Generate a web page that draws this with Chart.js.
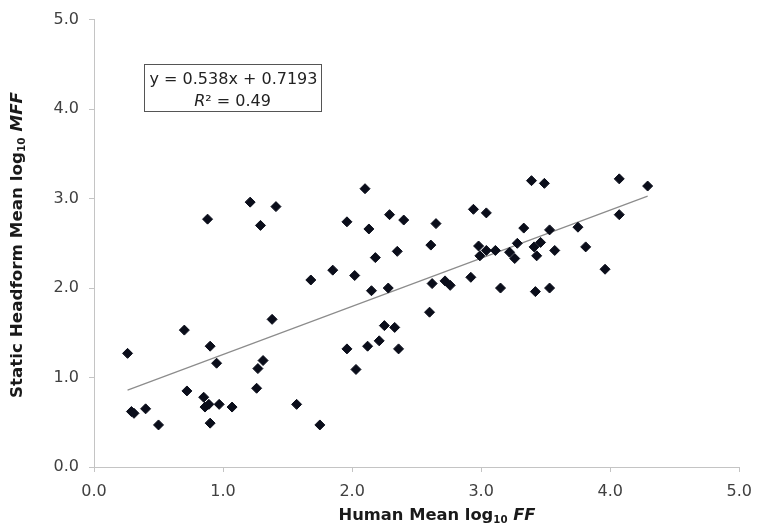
<!DOCTYPE html>
<html>
<head>
<meta charset="utf-8">
<script src="https://cdn.jsdelivr.net/npm/chart.js@4.4.1/dist/chart.umd.min.js"></script>
<style>
  html, body { margin: 0; padding: 0; background: #fff; }
  canvas { display: block; }
</style>
</head>
<body>
<canvas id="chart" width="762" height="532"></canvas>
<script>
// Human mean log10 FF (x) vs static headform mean log10 MFF (y)
const humanFF = [
  0.26, 0.29, 0.31, 0.40, 0.50, 0.70, 0.72, 0.85, 0.86, 0.89,
  0.88, 0.90, 0.90, 0.95, 0.97, 1.07, 1.21, 1.26, 1.27, 1.29,
  1.31, 1.38, 1.41, 1.57, 1.68, 1.75, 1.85, 1.96, 1.96, 2.02,
  2.03, 2.10, 2.12, 2.13, 2.15, 2.18, 2.21, 2.25, 2.28, 2.29,
  2.33, 2.35, 2.36, 2.40, 2.60, 2.61, 2.62, 2.65, 2.72, 2.76,
  2.92, 2.94, 2.98, 2.99, 3.04, 3.04, 3.11, 3.15, 3.22, 3.26,
  3.28, 3.33, 3.39, 3.41, 3.42, 3.43, 3.46, 3.49, 3.53, 3.53,
  3.57, 3.75, 3.81, 3.96, 4.07, 4.07, 4.29
];
const headformMFF = [
  1.27, 0.62, 0.60, 0.65, 0.47, 1.53, 0.85, 0.78, 0.67, 0.70,
  2.77, 1.35, 0.49, 1.16, 0.70, 0.67, 2.96, 0.88, 1.10, 2.70,
  1.19, 1.65, 2.91, 0.70, 2.09, 0.47, 2.20, 2.74, 1.32, 2.14,
  1.09, 3.11, 1.35, 2.66, 1.97, 2.34, 1.41, 1.58, 2.00, 2.82,
  1.56, 2.41, 1.32, 2.76, 1.73, 2.48, 2.05, 2.72, 2.08, 2.03,
  2.12, 2.88, 2.47, 2.36, 2.84, 2.42, 2.42, 2.00, 2.40, 2.33,
  2.50, 2.67, 3.20, 2.46, 1.96, 2.36, 2.51, 3.17, 2.65, 2.00,
  2.42, 2.68, 2.46, 2.21, 3.22, 2.82, 3.14
];
const tickValues = [0, 1, 2, 3, 4, 5];

// fitted line reported on the chart
const slope = 0.538;
const intercept = 0.7193;
const rSquared = 0.49;

const FONT = '"DejaVu Sans", "Liberation Sans", sans-serif';

const points = humanFF.map((x, i) => ({ x: x, y: headformMFF[i] }));
const xMin = Math.min(...humanFF);
const xMax = Math.max(...humanFF);
const trend = [
  { x: xMin, y: slope * xMin + intercept },
  { x: xMax, y: slope * xMax + intercept }
];

// draw a run of text pieces with different fonts, centred on (0,0);
// squeezed or stretched so the whole run is `target` px long
function drawPieces(ctx, pieces, target) {
  let total = 0;
  pieces.forEach(p => { ctx.font = p.font; p.w = ctx.measureText(p.text).width; total += p.w; });
  if (target) ctx.scale(target / total, 1);
  let x = -total / 2;
  pieces.forEach(p => {
    ctx.font = p.font;
    ctx.fillText(p.text, x, p.dy || 0);
    x += p.w;
  });
}

const titlesPlugin = {
  id: 'titles',
  afterDraw(chart) {
    const ctx = chart.ctx;
    ctx.save();
    ctx.fillStyle = '#1a1a1a';
    ctx.textBaseline = 'alphabetic';
    ctx.textAlign = 'left';

    // x axis title
    ctx.save();
    ctx.translate(437, 520);
    drawPieces(ctx, [
      { text: 'Human Mean log', font: 'bold 16px ' + FONT },
      { text: '10', font: 'bold 10px ' + FONT, dy: 3 },
      { text: ' FF', font: 'italic bold 16px ' + FONT }
    ], 197);
    ctx.restore();

    // y axis title
    ctx.save();
    ctx.translate(22, 245);
    ctx.rotate(-Math.PI / 2);
    drawPieces(ctx, [
      { text: 'Static Headform Mean log', font: 'bold 16px ' + FONT },
      { text: '10', font: 'bold 10px ' + FONT, dy: 3 },
      { text: ' MFF', font: 'italic bold 16px ' + FONT }
    ], 306);
    ctx.restore();

    // equation box
    const area = chart.chartArea;
    const bx = area.left + 50, by = 64.5, bw = 177, bh = 47;
    ctx.strokeStyle = '#555';
    ctx.lineWidth = 1;
    ctx.strokeRect(bx + 0.5, by, bw, bh);
    ctx.fillStyle = '#222';
    ctx.save();
    ctx.translate(bx + bw / 2 + 1, by + 19);
    drawPieces(ctx, [{ text: 'y = ' + slope + 'x + ' + intercept, font: '16px ' + FONT }]);
    ctx.restore();
    ctx.save();
    ctx.translate(bx + bw / 2, by + 41);
    drawPieces(ctx, [
      { text: 'R', font: 'italic 16px ' + FONT },
      { text: '² = ' + rSquared, font: '16px ' + FONT }
    ]);
    ctx.restore();

    ctx.restore();
  }
};

const axisStyle = {
  type: 'linear',
  min: 0,
  max: 5,
  afterBuildTicks(scale) { scale.ticks = tickValues.map(v => ({ value: v })); },
  ticks: {
    callback: v => Number(v).toFixed(1),
    color: '#404040',
    font: { family: FONT, size: 16 },
    padding: 10
  },
  grid: { drawOnChartArea: false, drawTicks: true, tickLength: 5, color: '#c4c4c4' },
  border: { color: '#c4c4c4', width: 1 }
};

new Chart(document.getElementById('chart'), {
  type: 'scatter',
  data: {
    datasets: [
      {
        label: 'Linear fit',
        type: 'line',
        data: trend,
        borderColor: '#8c8c8c',
        borderWidth: 1.2,
        pointRadius: 0,
        fill: false,
        order: 2
      },
      {
        label: 'Headform vs human',
        data: points,
        pointStyle: 'rectRot',
        pointRadius: 5,
        pointBackgroundColor: '#0a0d1a',
        pointBorderColor: '#0a0d1a',
        pointBorderWidth: 1,
        order: 1
      }
    ]
  },
  options: {
    responsive: false,
    animation: false,
    devicePixelRatio: 1,
    layout: { padding: { left: 0, right: 20, top: 15, bottom: 0 } },
    plugins: { legend: { display: false }, tooltip: { enabled: false } },
    scales: {
      x: Object.assign({}, axisStyle, {
        afterFit(scale) { scale.height = 65; }
      }),
      y: Object.assign({}, axisStyle, {
        afterFit(scale) { scale.width = 94; }
      })
    }
  },
  plugins: [titlesPlugin]
});
</script>
</body>
</html>
